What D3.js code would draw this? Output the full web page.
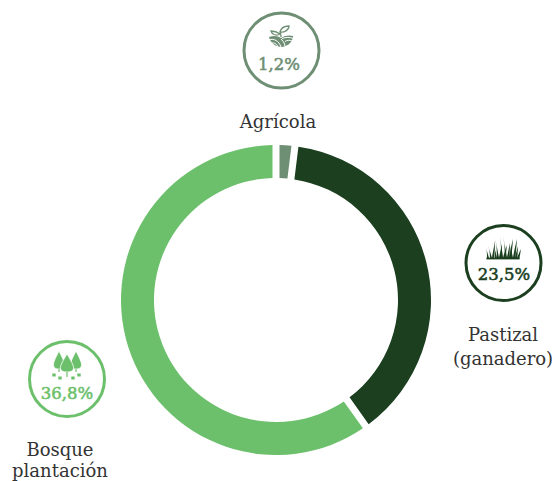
<!DOCTYPE html>
<html><head><meta charset="utf-8">
<script src="https://cdn.jsdelivr.net/npm/d3@7/dist/d3.min.js"></script>
<style>html,body{margin:0;padding:0;background:#fff}svg{display:block}</style></head>
<body><svg id="c" width="556" height="481"></svg>
<script>
const categories = ["Agrícola", "Pastizal (ganadero)", "Bosque plantación"];
const values = [1.2, 23.5, 36.8];
const valueLabels = ["1,2%", "23,5%", "36,8%"];
const colors = ["#6f8f75", "#1b3f1f", "#6cc06c"];
const labelLines = [["Agrícola"], ["Pastizal", "(ganadero)"], ["Bosque", "plantación"]];

const cx = 276, cy = 300, R = 155, r = 122, GAP = 7;
const FONT = "'DejaVu Serif', serif";
const svg = d3.select("#c");
const g = svg.append("g").attr("transform", `translate(${cx},${cy})`);
const pie = d3.pie().sort(null).value(d => d);
const arc = d3.arc().innerRadius(r).outerRadius(R).padAngle(GAP / R).padRadius(R);
g.selectAll("path").data(pie(values)).join("path").attr("d", arc).attr("fill", (d, i) => colors[i]);

const badges = [
  {cx: 281.5, cy: 50.5, tx: 279, ty: 70, lx: 278, ly: [128]},
  {cx: 503.5, cy: 263, tx: 504, ty: 280, lx: 503, ly: [341, 365]},
  {cx: 67, cy: 379, tx: 67, ty: 399, lx: 60, ly: [456, 477]}
];
const icons = [
  (s) => { // sprout over fields; origin at (281,36)
    s.append("path").attr("fill", "none").attr("stroke", "currentColor").attr("stroke-width", 1.3)
      .attr("d", "M0,1 C0,-3 -1,-4 -1,-5 M-1,-2 C-5,-5 -8,-5 -10,-5 C-9,-1 -4,0 -1,-2 Z M-1,-4 C0,-8 4,-10 8,-10 C8,-6 3,-3 -1,-4 Z");
    s.append("path").attr("fill", "currentColor")
      .attr("d", "M-12,1 C-7,-1 -3,0 0,2 C4,-1 9,-1 12,0 C12,5 8,10 1,11 C-6,11 -11,6 -12,1 Z");
    s.append("path").attr("fill", "none").attr("stroke", "#fff").attr("stroke-width", 1)
      .attr("d", "M-12,4 C-7,2 -2,5 0,11 M-10,7.5 C-7,6 -4,8 -3,11 M0,3 C3,6 4,8 4,11 M1,2.5 C5,1 9,1 12,2.5 M4,5.5 C6,4 9,4 11,5");
  },
  (s) => { // grass; origin at base centre (503,259)
    const bx = [-15,-12,-10,-7,-5,-3,-1,1,3,5,7,9,11,13,15];
    const hs = [11,14,18,13,21,15,22,14,23,16,20,14,20,13,10];
    const lean = [-2,-3,2,-2,-3,2,-2,3,-3,2,3,-2,3,2,3];
    s.selectAll("path.b").data(bx).join("path").attr("class","b").attr("fill","currentColor")
      .attr("d",(d,i)=>`M${d-1.3},0 Q${d+lean[i]*0.2},${-hs[i]*0.55} ${d+lean[i]},${-hs[i]} Q${d+lean[i]*0.5+0.7},${-hs[i]*0.5} ${d+1.3},0 Z`);
    s.append("rect").attr("x",-16.5).attr("y",-1.2).attr("width",33).attr("height",1.6).attr("fill","currentColor");
  },
  (s) => { // trees and dots; origin at (67,370)
    const leaf = (x, y, w, h) => `M${x},${y-h} C${x+w*0.5},${y-h*0.7} ${x+w*1.1},${y-h*0.35} ${x+w},${y-h*0.2} C${x+w*0.9},${y-h*0.02} ${x+w*0.4},${y} ${x},${y} C${x-w*0.4},${y} ${x-w*0.9},${y-h*0.02} ${x-w},${y-h*0.2} C${x-w*1.1},${y-h*0.35} ${x-w*0.5},${y-h*0.7} ${x},${y-h} Z`;
    [[-8,-1,5.5,18],[9,-1,5.5,18],[0,2,6.5,18]].forEach(([x,y,w,h])=>{
      s.append("path").attr("fill","currentColor").attr("stroke","#fff").attr("stroke-width",0.8).attr("d",leaf(x,y,w,h));
      s.append("rect").attr("x",x-0.6).attr("y",y).attr("width",1.2).attr("height",x===0?5:3).attr("fill","currentColor");
    });
    [[-13,5],[-7,8],[6,8],[12,5]].forEach(([x,y])=>{
      s.append("rect").attr("x",x-1.7).attr("y",y-1.5).attr("width",3.4).attr("height",3).attr("fill","currentColor");
    });
  }
];
const iconPos = [[281,36],[503,259],[67,370]];

badges.forEach((b, i) => {
  svg.append("circle").attr("cx", b.cx).attr("cy", b.cy).attr("r", 37.5)
    .attr("fill", "#fff").attr("stroke", colors[i]).attr("stroke-width", 3);
  const ic = svg.append("g").style("color", colors[i])
    .attr("transform", `translate(${iconPos[i][0]},${iconPos[i][1]})`);
  icons[i](ic);
  svg.append("text").attr("x", b.tx).attr("y", b.ty).attr("text-anchor", "middle")
    .attr("font-family", FONT).attr("font-size", 16.5)
    .attr("fill", colors[i]).attr("stroke", colors[i]).attr("stroke-width", 0.55).text(valueLabels[i]);
  labelLines[i].forEach((t, k) => {
    svg.append("text").attr("x", b.lx).attr("y", b.ly[k]).attr("text-anchor", "middle")
      .attr("font-family", FONT).attr("font-size", 18).attr("fill", "#333").text(t);
  });
});
</script></body></html>
